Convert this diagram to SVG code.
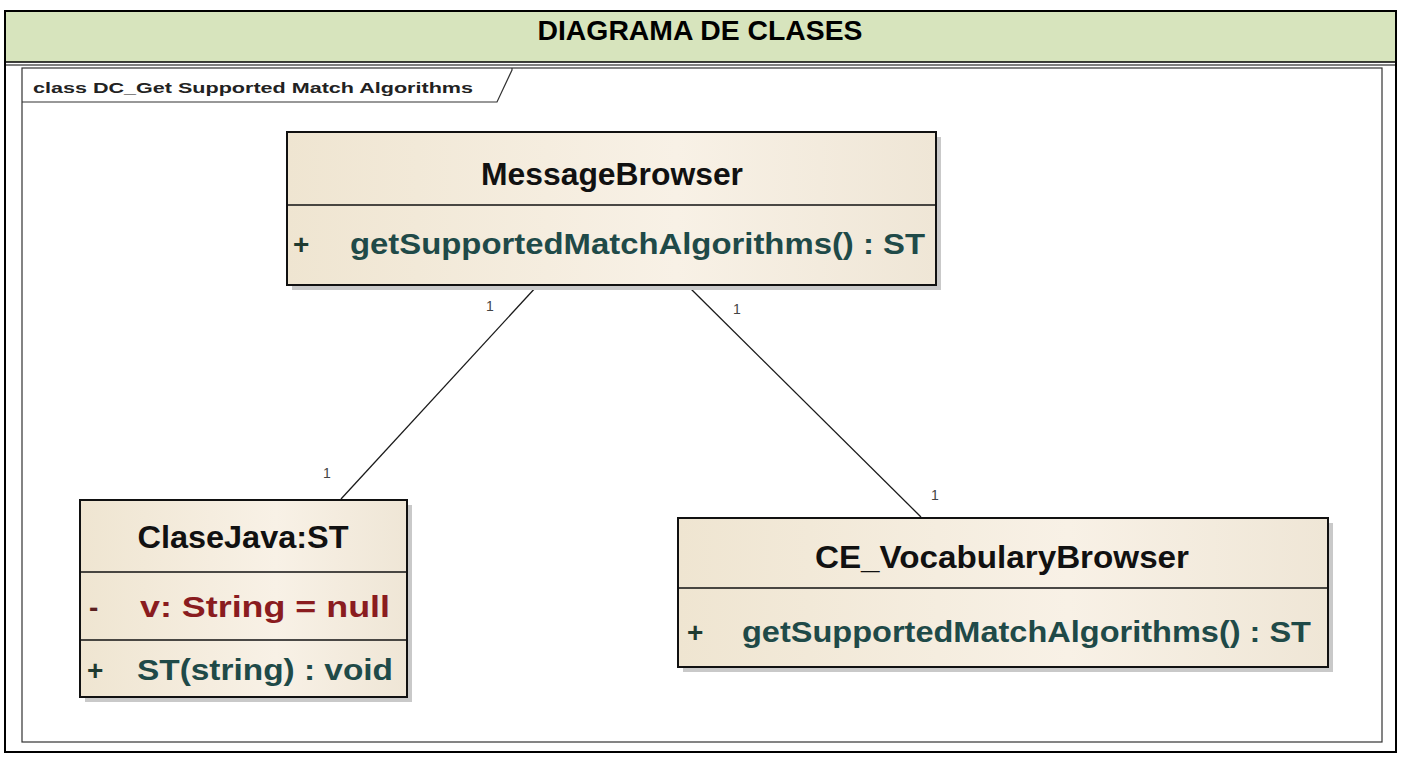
<svg xmlns="http://www.w3.org/2000/svg" width="1401" height="758" viewBox="0 0 1401 758">
<style>
.ttl{font-family:"Liberation Sans",Arial,sans-serif;font-weight:bold;font-size:28px;fill:#000}
.cls{font-family:"Liberation Sans",Arial,sans-serif;font-weight:bold;font-size:31px;fill:#111}
.op{font-family:"Liberation Sans",Arial,sans-serif;font-weight:bold;font-size:30px;fill:#1f4a48}
.at{font-family:"Liberation Sans",Arial,sans-serif;font-weight:bold;font-size:30px;fill:#8a1c1f}
.vis{font-family:"Liberation Sans",Arial,sans-serif;font-weight:bold;font-size:28px}
.mult{font-family:"Liberation Sans",Arial,sans-serif;font-size:14px;fill:#444}
.frm{font-family:"Liberation Sans",Arial,sans-serif;font-weight:bold;font-size:15px;fill:#222}
.box{fill:url(#g);stroke:#111;stroke-width:2}
.sh{fill:#c9c9c9}
.div{stroke:#111;stroke-width:1.5}
.conn{stroke:#1a1a1a;stroke-width:1.3;fill:none}
</style>
<defs>
<linearGradient id="g" x1="0" y1="0" x2="1" y2="0">
<stop offset="0" stop-color="#efe5d1"/>
<stop offset="0.6" stop-color="#f8f1e6"/>
<stop offset="1" stop-color="#efe6d6"/>
</linearGradient>
</defs>
<rect x="0" y="0" width="1401" height="758" fill="#fff"/>
<g id="table">
<rect x="5" y="11" width="1391" height="51" fill="#d7e4bd"/>
<line x1="5" y1="62" x2="1396" y2="62" stroke="#000" stroke-width="1.5"/>
<line x1="5" y1="65" x2="1396" y2="65" stroke="#000" stroke-width="1"/>
<rect x="5" y="11" width="1391" height="741" fill="none" stroke="#000" stroke-width="2"/>
<text class="ttl" x="700" y="40" text-anchor="middle" textLength="325" lengthAdjust="spacingAndGlyphs">DIAGRAMA DE CLASES</text>
</g>
<g id="frame">
<rect x="22" y="68" width="1360" height="674" fill="none" stroke="#333" stroke-width="1.2"/>
<path d="M22 102 H497 L512 70 V68" fill="none" stroke="#333" stroke-width="1.2"/>
<text class="frm" x="33" y="93" textLength="440" lengthAdjust="spacingAndGlyphs">class DC_Get Supported Match Algorithms</text>
</g>
<g id="connectors">
<line class="conn" x1="537" y1="286" x2="341" y2="499"/>
<line class="conn" x1="688" y1="286" x2="921" y2="517"/>
<text class="mult" x="486" y="311">1</text>
<text class="mult" x="323" y="478">1</text>
<text class="mult" x="733" y="314">1</text>
<text class="mult" x="931" y="500">1</text>
</g>
<g id="MessageBrowser">
<rect class="sh" x="292" y="137" width="649" height="153"/>
<rect class="box" x="287" y="132" width="649" height="153"/>
<line class="div" x1="287" y1="205" x2="936" y2="205"/>
<text class="cls" x="612" y="185" text-anchor="middle" textLength="262" lengthAdjust="spacingAndGlyphs">MessageBrowser</text>
<text class="vis" x="293" y="254" fill="#1f3a30">+</text>
<text class="op" x="350" y="254" textLength="575" lengthAdjust="spacingAndGlyphs">getSupportedMatchAlgorithms() : ST</text>
</g>
<g id="ClaseJava">
<rect class="sh" x="85" y="505" width="327" height="197"/>
<rect class="box" x="80" y="500" width="327" height="197"/>
<line class="div" x1="80" y1="572" x2="407" y2="572"/>
<line class="div" x1="80" y1="640" x2="407" y2="640"/>
<text class="cls" x="243" y="548" text-anchor="middle" textLength="211" lengthAdjust="spacingAndGlyphs">ClaseJava:ST</text>
<text class="vis" x="89" y="617" fill="#5a2020">-</text>
<text class="at" x="140" y="617" textLength="250" lengthAdjust="spacingAndGlyphs">v:  String = null</text>
<text class="vis" x="87" y="680" fill="#1f3a30">+</text>
<text class="op" x="137" y="680" textLength="256" lengthAdjust="spacingAndGlyphs">ST(string) : void</text>
</g>
<g id="CE_VocabularyBrowser">
<rect class="sh" x="683" y="523" width="650" height="149"/>
<rect class="box" x="678" y="518" width="650" height="149"/>
<line class="div" x1="678" y1="588" x2="1328" y2="588"/>
<text class="cls" x="1002" y="568" text-anchor="middle" textLength="374" lengthAdjust="spacingAndGlyphs">CE_VocabularyBrowser</text>
<text class="vis" x="687" y="642" fill="#1f3a30">+</text>
<text class="op" x="742" y="642" textLength="569" lengthAdjust="spacingAndGlyphs">getSupportedMatchAlgorithms() : ST</text>
</g>
</svg>
